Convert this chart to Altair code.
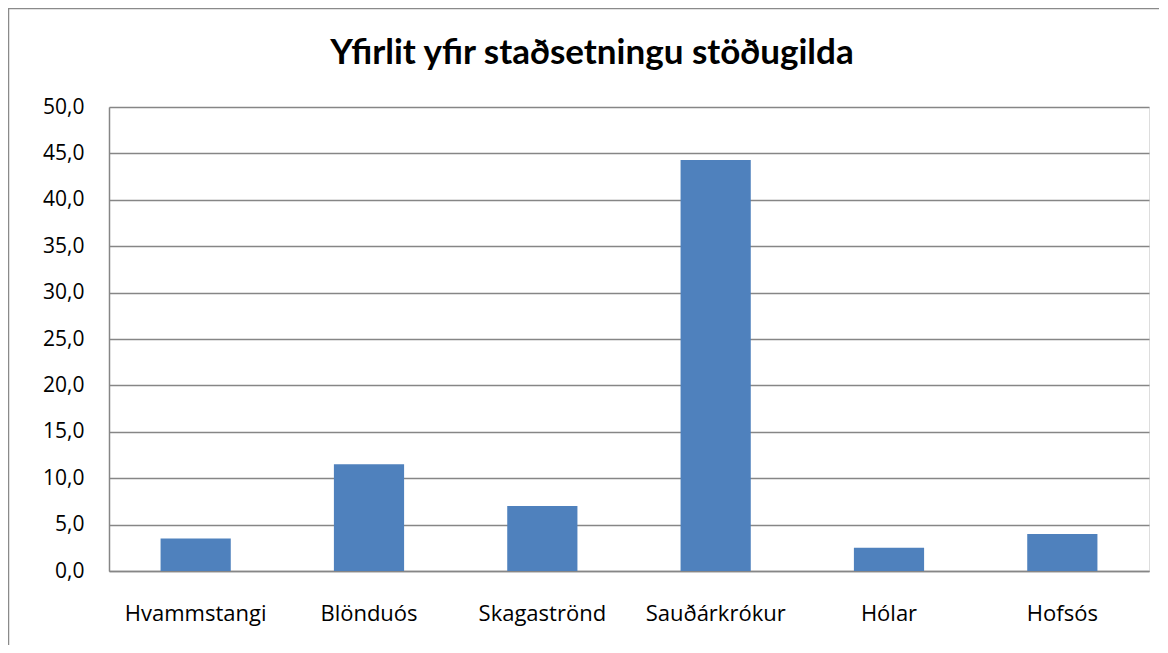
import altair as alt
import pandas as pd

categories = ["Hvammstangi", "Blönduós", "Skagaströnd", "Sauðárkrókur", "Hólar", "Hofsós"]
values = [3.5, 11.5, 7.0, 44.3, 2.5, 4.0]
title_text = ["Yfirlit yfir staðsetningu stöðugilda"]

df = pd.DataFrame({"stadur": categories, "gildi": values})

FONT = "Open Sans"
W, H = 1040, 464

frame = alt.Chart(pd.DataFrame({"a": [0]})).mark_rect(
    fill=None, stroke="#8a8a8a", strokeWidth=2.5
).encode(
    x=alt.value(-101), x2=alt.value(1080), y=alt.value(-99), y2=alt.value(580)
)

title = alt.Chart(pd.DataFrame({"t": title_text})).mark_text(
    font="Lato", fontSize=35, fontWeight="bold", color="#000",
    align="center", baseline="alphabetic"
).encode(x=alt.value(483), y=alt.value(-43), text="t:N")

bars = alt.Chart(df).mark_bar(color="#4F81BD").encode(
    x=alt.X("stadur:N", sort=categories, title=None,
            scale=alt.Scale(paddingInner=0.595, paddingOuter=0.2975),
            axis=alt.Axis(labelAngle=0, labelFont=FONT, labelFontSize=22, labelColor="#000",
                          labelPadding=32, ticks=False, domainColor="#868686", domainWidth=1.5,
                          grid=False)),
    y=alt.Y("gildi:Q", title=None,
            scale=alt.Scale(domain=[0, 50], nice=False),
            axis=alt.Axis(values=list(range(0, 51, 5)), labelFont=FONT, labelFontSize=21,
                          labelColor="#000", labelPadding=25, ticks=False,
                          domainColor="#868686", domainWidth=1.5,
                          gridColor="#868686", gridWidth=1.5,
                          labelExpr="replace(format(datum.value, '.1f'), '.', ',')")),
)

chart = alt.layer(frame, title, bars).properties(
    width=W, height=H,
    autosize=alt.AutoSizeParams(type="none"),
    padding={"left": 101, "top": 99, "right": 10, "bottom": 74},
).configure_view(stroke=None).configure(background="white")

chart.save("out.html", embed_options={"renderer": "svg", "actions": False})
